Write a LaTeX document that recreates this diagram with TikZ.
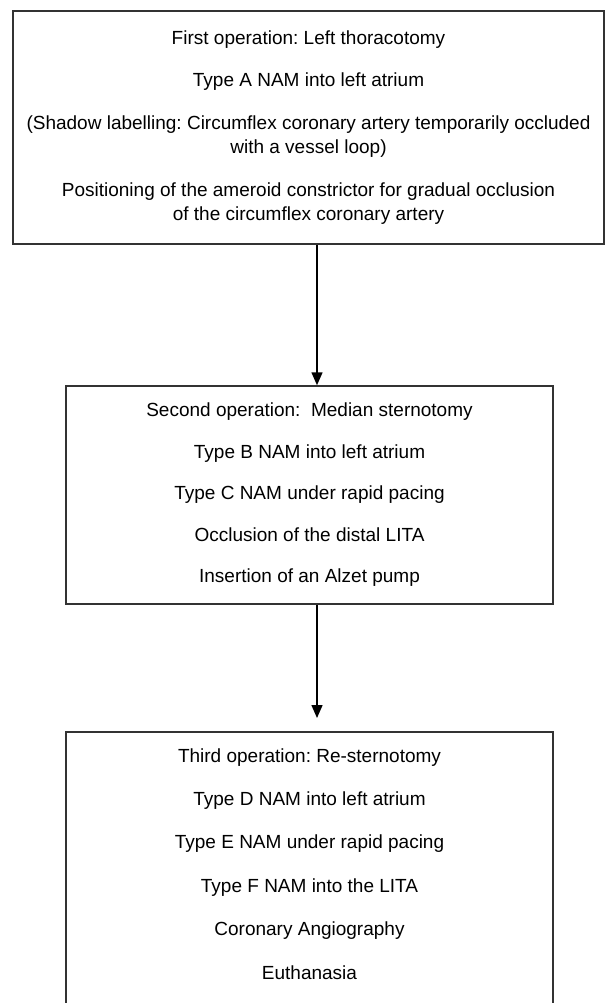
\documentclass[tikz,border=0pt]{standalone}
\usepackage{fontspec}
\setmainfont{Liberation Sans}
\usetikzlibrary{arrows.meta}
\frenchspacing
\begin{document}
\begin{tikzpicture}[x=1pt,y=-1pt,
  optext/.style={inner sep=0pt, align=center, font=\fontsize{19}{24}\selectfont},
  opbox/.style={optext, draw=black!80, line width=1.5pt},
  boxline/.style={draw=black!80, line width=1.5pt},
  flow/.style={draw=black, line width=1.5pt, -{Triangle[length=13pt,width=11pt]}}]
\clip (0,0) rectangle (614,1003);
\useasboundingbox (0,0) rectangle (614,1003);
\node[opbox, minimum width=591, minimum height=233] (op1) at (308.5,127.5)
  {First operation: Left thoracotomy\\[18pt]
   Type A NAM into left atrium\\[19pt]
   (Shadow labelling: Circumflex coronary artery temporarily occluded\\
   with a vessel loop)\\[19pt]
   Positioning of the ameroid constrictor for gradual occlusion\\
   of the circumflex coronary artery};
\node[opbox, minimum width=487, minimum height=218] (op2) at (309.5,495)
  {Second operation:\ \ Median sternotomy\\[17.5pt]
   Type B NAM into left atrium\\[17.5pt]
   Type C NAM under rapid pacing\\[17.5pt]
   Occlusion of the distal LITA\\[17.5pt]
   Insertion of an Alzet pump};
\node[optext, minimum width=487, minimum height=263, anchor=north] (op3) at (309.5,732)
  {Third operation: Re-sternotomy\\[19.4pt]
   Type D NAM into left atrium\\[19.4pt]
   Type E NAM under rapid pacing\\[19.4pt]
   Type F NAM into the LITA\\[19.4pt]
   Coronary Angiography\\[19.4pt]
   Euthanasia};
\draw[boxline] ([yshift=-20pt]op3.south west) -- (op3.north west) -- (op3.north east) -- ([yshift=-20pt]op3.south east);
\coordinate (ax) at (317,0);
\draw[flow] (op1.south -| ax) -- (op2.north -| ax);
\draw[flow, shorten >=14pt] (op2.south -| ax) -- (op3.north -| ax);
\end{tikzpicture}
\end{document}
